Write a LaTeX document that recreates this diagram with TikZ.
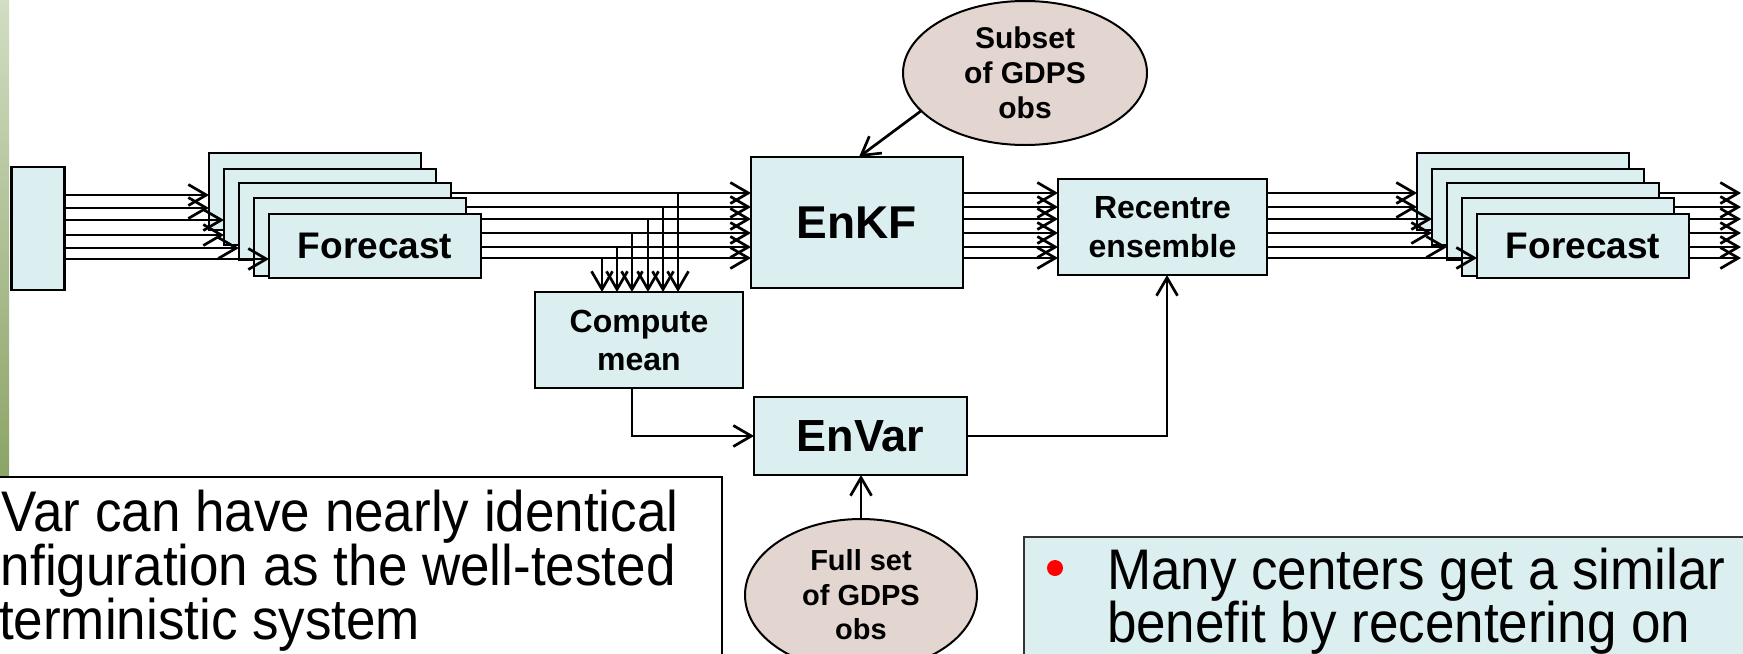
\documentclass[tikz,border=0pt]{standalone}
\usepackage{fontspec}
\usepackage{graphicx}
\setmainfont{Liberation Sans}
\usetikzlibrary{arrows.meta,shapes.geometric}
\definecolor{boxblue}{HTML}{DBEEF0}
\definecolor{obsfill}{HTML}{E3D5D0}
\definecolor{barTop}{HTML}{D2DDC3}
\definecolor{barBot}{HTML}{8CA467}
\pgfdeclarelayer{bg}
\pgfsetlayers{bg,main}
\newcommand{\tallt}[1]{\scalebox{1}[1.08]{#1}}
\tikzset{
  box/.style={draw=black, fill=boxblue, line width=1.2pt, inner sep=0pt, outer sep=0pt, align=center, font=\bfseries},
  obs/.style={ellipse, draw=black, fill=obsfill, line width=1pt, inner sep=0pt, outer sep=0pt, align=center,
    font=\bfseries\fontsize{15}{17.5}\selectfont},
  arr/.style={line width=1.35pt, -{Straight Barb[length=9pt,width=10.5pt]}},
  bodytxt/.style={inner sep=0pt, outer sep=0pt, anchor=base west, font=\fontsize{26.5}{30}\selectfont},
}
\begin{document}
\begin{tikzpicture}[x=0.5pt, y=-0.5pt]
\useasboundingbox (0,0) rectangle (1743,653);
\clip (0,0) rectangle (1743,653);

% green side bar
\shade[top color=barTop, bottom color=barBot] (0,0) rectangle (9,475);

% source box
\node[box, minimum width=26.5pt, minimum height=61.5pt] (src) at (38,228.5) {};

% left forecast stack
\node[box, minimum width=106pt, minimum height=38.5pt] (F1) at (315,191.5) {};
\node[box, minimum width=106pt, minimum height=38pt]   (F2) at (330,207) {};
\node[box, minimum width=106pt, minimum height=38.5pt] (F3) at (345,221.5) {};
\node[box, minimum width=106pt, minimum height=39pt]   (F4) at (360,237) {};
\node[box, minimum width=106pt, minimum height=32pt, font=\bfseries\fontsize{18.5}{22}\selectfont] (F5) at (375,246) {Forecast};

% right forecast stack
\node[box, minimum width=106pt, minimum height=38.5pt] (G1) at (1523,191.5) {};
\node[box, minimum width=106pt, minimum height=38pt]   (G2) at (1538,207) {};
\node[box, minimum width=106pt, minimum height=38.5pt] (G3) at (1553,221.5) {};
\node[box, minimum width=106pt, minimum height=39pt]   (G4) at (1568,237) {};
\node[box, minimum width=106pt, minimum height=32pt, font=\bfseries\fontsize{18.5}{22}\selectfont] (G5) at (1583,246) {Forecast};

% main boxes
\node[box, minimum width=106pt, minimum height=65.5pt, font=\bfseries\fontsize{23}{27}\selectfont] (enkf) at (857,222.5) {EnKF};
\node[box, minimum width=104.5pt, minimum height=48pt, font=\bfseries\fontsize{16}{19.5}\selectfont] (rec) at (1162.5,227) {Recentre\\ensemble};
\node[box, minimum width=104pt, minimum height=48pt, font=\bfseries\fontsize{16}{19}\selectfont] (cmean) at (639,340) {Compute\\mean};
\node[box, minimum width=106.5pt, minimum height=39pt, font=\bfseries\fontsize{22.5}{27}\selectfont] (envar) at (860.5,436) {EnVar};

% observation ellipses
\node[obs, minimum width=122pt, minimum height=72pt] (sub) at (1025,73) {Subset\\of GDPS\\obs};
\node[obs, minimum width=116pt, minimum height=76pt, font=\bfseries\fontsize{14.5}{17.2}\selectfont] (full) at (861,595) {Full set\\of GDPS\\obs};

% wires running behind the stacks
\coordinate (outR) at (1741,225);
\begin{pgfonlayer}{bg}
  \draw[arr] (F1.east |- 0,193) -- (enkf.west |- 0,193);
  \draw[arr] (F2.east |- 0,207) -- (enkf.west |- 0,207);
  \draw[arr] (F3.east |- 0,219) -- (enkf.west |- 0,219);
  \draw[arr] (F4.east |- 0,233) -- (enkf.west |- 0,233);
  \draw[arr] (F5.east |- 0,247) -- (enkf.west |- 0,247);
  \draw[arr] (F5.east |- 0,258) -- (enkf.west |- 0,258);
  \draw[arr] (G1.east |- 0,193) -- (outR |- 0,193);
  \draw[arr] (G2.east |- 0,207) -- (outR |- 0,207);
  \draw[arr] (G3.east |- 0,219) -- (outR |- 0,219);
  \draw[arr] (G4.east |- 0,233) -- (outR |- 0,233);
  \draw[arr] (G5.east |- 0,247) -- (outR |- 0,247);
  \draw[arr] (G5.east |- 0,258) -- (outR |- 0,258);
\end{pgfonlayer}

% source to left stack
\draw[arr] (src.east |- 0,195) -- (F1.west |- 0,195);
\draw[arr] (src.east |- 0,208) -- (F1.west |- 0,208);
\draw[arr] (src.east |- 0,220) -- (F2.west |- 0,220);
\draw[arr] (src.east |- 0,235) -- (F2.west |- 0,235);
\draw[arr] (src.east |- 0,248) -- (F3.west |- 0,248);
\draw[arr] (src.east |- 0,259) -- (F5.west |- 0,259);

% branches into compute mean
\draw[arr] (602,258) -- (cmean.north -| 602,0);
\draw[arr] (617,247) -- (cmean.north -| 617,0);
\draw[arr] (632,233) -- (cmean.north -| 632,0);
\draw[arr] (648,219) -- (cmean.north -| 648,0);
\draw[arr] (663,207) -- (cmean.north -| 663,0);
\draw[arr] (678,193) -- (cmean.north -| 678,0);

% EnKF to recentre
\foreach \yy in {193,207,219,233,247,258}
  \draw[arr] (enkf.east |- 0,\yy) -- (rec.west |- 0,\yy);

% recentre to right stack
\draw[arr] (rec.east |- 0,193) -- (G1.west |- 0,193);
\draw[arr] (rec.east |- 0,207) -- (G1.west |- 0,207);
\draw[arr] (rec.east |- 0,219) -- (G2.west |- 0,219);
\draw[arr] (rec.east |- 0,233) -- (G2.west |- 0,233);
\draw[arr] (rec.east |- 0,247) -- (G3.west |- 0,247);
\draw[arr] (rec.east |- 0,258) -- (G5.west |- 0,258);

% other connectors
\draw[arr] (sub.200) -- (enkf.north -| 859,0);
\draw[arr] (cmean.south -| 632,0) |- (envar.west);
\coordinate (turn) at (1167,436);
\draw[arr] (envar.east) -- (turn) -- (rec.south -| turn);
\draw[arr] (full.north) -- (envar.south -| full.north);

% bottom-left note
\node[draw=black, fill=white, line width=1pt, inner sep=0pt, outer sep=0pt, anchor=north west,
      minimum width=371pt, minimum height=110pt] (note) at (-20,477) {};
\node[bodytxt] (n1) at (2,531) {\tallt{Var can have nearly identical}};
\node[bodytxt] (n2) at (1,585) {\tallt{nfiguration as the well-tested}};
\node[bodytxt] (n3) at (-1,639) {\tallt{terministic system}};

% bottom-right note
\node[draw=black!80, fill=boxblue, line width=1pt, inner sep=0pt, outer sep=0pt, anchor=north west,
      minimum width=380pt, minimum height=90pt] (cmt) at (1024,537) {};
\node[circle, fill=red, inner sep=0pt, minimum size=8pt] (bul) at (1055,568) {};
\node[bodytxt] (m1) at (1107,589) {\tallt{Many centers get a similar}};
\node[bodytxt] (m2) at (1107,642) {\tallt{benefit by recentering on}};
\end{tikzpicture}
\end{document}
